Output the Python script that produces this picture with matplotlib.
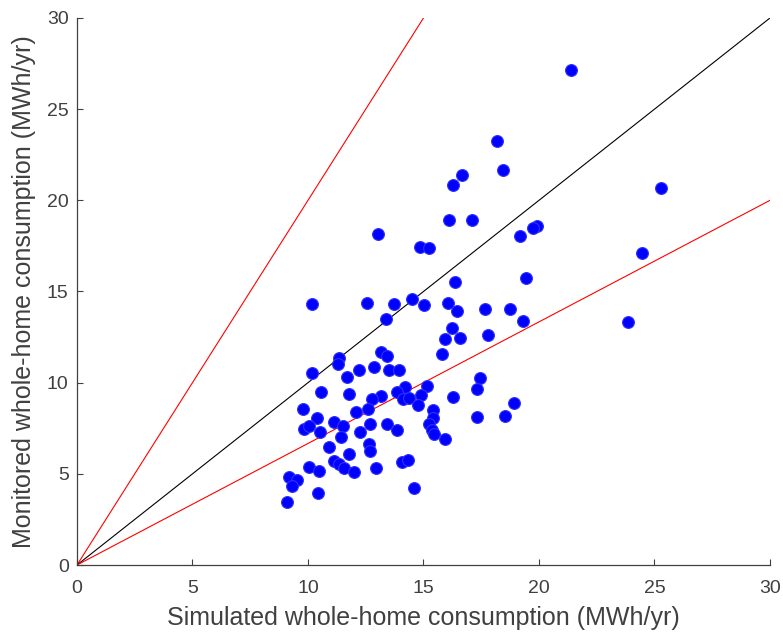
import matplotlib.pyplot as plt
import numpy as np

plt.rcParams['font.family'] = ['Liberation Sans', 'DejaVu Sans']

# simulated (x) vs monitored (y), MWh/yr
sim = [21.40, 18.20, 18.44, 16.68, 16.27, 25.29, 16.12, 17.10, 13.01, 19.93,
       19.73, 19.17, 14.85, 15.24, 24.44, 19.45, 16.38, 10.18, 12.54, 13.72,
       14.52, 15.04, 16.06, 16.47, 17.66, 18.76, 19.32, 23.84, 13.36, 16.23,
       16.56, 15.93, 17.79, 15.78, 13.14, 13.44, 11.35, 11.28, 10.16, 12.19,
       12.86, 13.51, 13.94, 11.71, 17.46, 17.31, 15.17, 10.55, 11.78, 14.22,
       13.85, 14.11, 14.37, 13.18, 12.75, 14.91, 16.27, 14.76, 18.91, 9.77,
       12.58, 12.10, 15.41, 15.41, 17.31, 18.54, 10.40, 11.13, 12.69, 13.42,
       15.24, 9.83, 10.05, 11.52, 10.53, 11.45, 12.25, 13.85, 15.37, 15.45,
       15.93, 10.91, 12.64, 12.69, 11.78, 11.13, 11.35, 11.56, 12.00, 10.05,
       10.48, 14.05, 14.33, 12.95, 9.19, 9.51, 9.29, 10.44, 14.59, 9.08]
mon = [27.16, 23.24, 21.64, 21.40, 20.84, 20.69, 18.94, 18.94, 18.14, 18.58,
       18.49, 18.07, 17.45, 17.36, 17.10, 15.76, 15.52, 14.30, 14.39, 14.30,
       14.57, 14.28, 14.39, 13.95, 14.04, 14.04, 13.39, 13.30, 13.50, 13.02,
       12.46, 12.37, 12.62, 11.57, 11.66, 11.49, 11.33, 11.04, 10.53, 10.71,
       10.86, 10.71, 10.71, 10.33, 10.27, 9.65, 9.82, 9.47, 9.38, 9.76,
       9.47, 9.09, 9.14, 9.25, 9.11, 9.31, 9.20, 8.76, 8.87, 8.58,
       8.58, 8.38, 8.49, 8.09, 8.12, 8.16, 8.09, 7.87, 7.76, 7.72,
       7.76, 7.47, 7.61, 7.65, 7.27, 7.03, 7.27, 7.43, 7.38, 7.21,
       6.92, 6.47, 6.65, 6.25, 6.10, 5.72, 5.54, 5.32, 5.10, 5.37,
       5.17, 5.65, 5.76, 5.32, 4.83, 4.66, 4.32, 3.95, 4.21, 3.44]

# reference lines: y = 2x, y = x, y = 2x/3
line_x = [0, 30]
slopes = [2.0, 1.0, 2.0 / 3.0]
line_colors = ['#ff0000', '#000000', '#ff0000']

fig = plt.figure(figsize=(7.83, 6.35), dpi=100)
ax = fig.add_axes([0.0983, 0.1102, 0.8851, 0.8615])

for s, c in zip(slopes, line_colors):
    ax.plot(line_x, [s * v for v in line_x], color=c, linewidth=0.8)

ax.plot(sim, mon, marker='o', linestyle='None', color='#0000ff',
        markersize=8.5, markeredgewidth=0.8, markeredgecolor='#3030ff')

ax.set_xlim(0, 30)
ax.set_ylim(0, 30)
ax.set_xticks(np.arange(0, 31, 5))
ax.set_yticks(np.arange(0, 31, 5))
ax.spines['top'].set_visible(False)
ax.spines['right'].set_visible(False)
for sp in ['left', 'bottom']:
    ax.spines[sp].set_color('#404040')
    ax.spines[sp].set_linewidth(0.9)
ax.tick_params(direction='in', length=4, colors='#404040', labelsize=14)
ax.tick_params(axis='x', pad=11)
ax.tick_params(axis='y', pad=6)

ax.set_xlabel('Simulated whole-home consumption (MWh/yr)', fontsize=18,
              color='#404040', labelpad=6)
ax.set_ylabel('Monitored whole-home consumption (MWh/yr)', fontsize=18,
              color='#404040', labelpad=8)

fig.savefig('out.png', dpi=100)
